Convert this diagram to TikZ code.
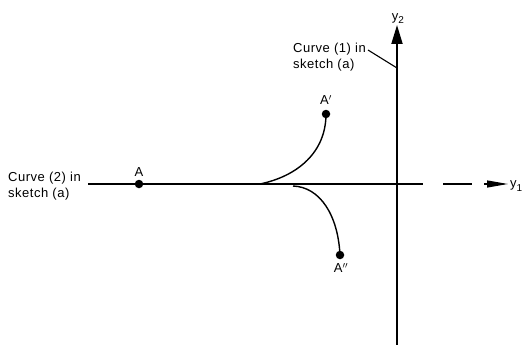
\documentclass[tikz,border=0pt]{standalone}
\usepackage{fontspec}
\setmainfont{Liberation Sans}[LetterSpace=4]
\usetikzlibrary{arrows.meta}
\begin{document}
\begin{tikzpicture}[x=1pt,y=-1pt,
  lbl/.style={font=\fontsize{13}{16}\selectfont, inner sep=0pt, align=left},
  ptlbl/.style={font=\fontsize{13}{14}\selectfont, inner sep=0pt},
  dotp/.style={circle, fill=black, inner sep=0pt, minimum size=8.5pt},
  crv/.style={line width=1.4pt},
  haxis/.style={line width=1.2pt},
  vaxis/.style={line width=1.9pt}]
\useasboundingbox (0,0) rectangle (525,345);
\clip (0,0) rectangle (525,345);
% axes
\coordinate (xL) at (88,184);
\coordinate (xS) at (423,184);
\coordinate (d1) at (443,184);
\coordinate (d2) at (472,184);
\coordinate (xA) at (484,184);
\coordinate (xE) at (508,184);
\coordinate (yB) at (397,345);
\coordinate (yT) at (397,25);
\draw[vaxis, -{Triangle[length=19pt,width=11pt]}] (yB) -- (yT);
\draw[haxis] (xL) -- (xS);
\draw[haxis] (d1) -- (d2);
\draw[haxis, -{Triangle[length=21pt,width=7pt]}] (xA) -- (xE);
\node[ptlbl, anchor=south] (y2) at (398,24) {y\raisebox{-3.5pt}{\fontsize{10}{10}\selectfont 2}};
\node[ptlbl, anchor=west] (y1) at (510,186) {y\raisebox{-3.5pt}{\fontsize{10}{10}\selectfont 1}};
% labels
\node[lbl, anchor=west] (c1) at (293,57) {Curve (1) in\\sketch (a)};
\node[lbl, anchor=west] (c2) at (8,186) {Curve (2) in\\sketch (a)};
\coordinate (ldA) at (368,50);
\coordinate (ldB) at (397,68);
\draw[line width=1.1pt] (ldA) -- (ldB);
% points
\node[dotp] (A) at (139,184) {};
\node[ptlbl] (Al) at (139,172) {A};
\coordinate (S1) at (260,184);
\node[dotp] (A1) at (326,114) {};
\node[ptlbl] (A1l) at (326,100) {A$'$};
\coordinate (S2) at (293,186);
\node[dotp] (A2) at (340,255) {};
\node[ptlbl] (A2l) at (341,268) {A$''$};
\draw[crv] (S1) .. controls (298,176) and (326,152) .. (A1.center);
\draw[crv] (S2) .. controls (320,187) and (338,215) .. (A2.center);
\end{tikzpicture}
\end{document}
